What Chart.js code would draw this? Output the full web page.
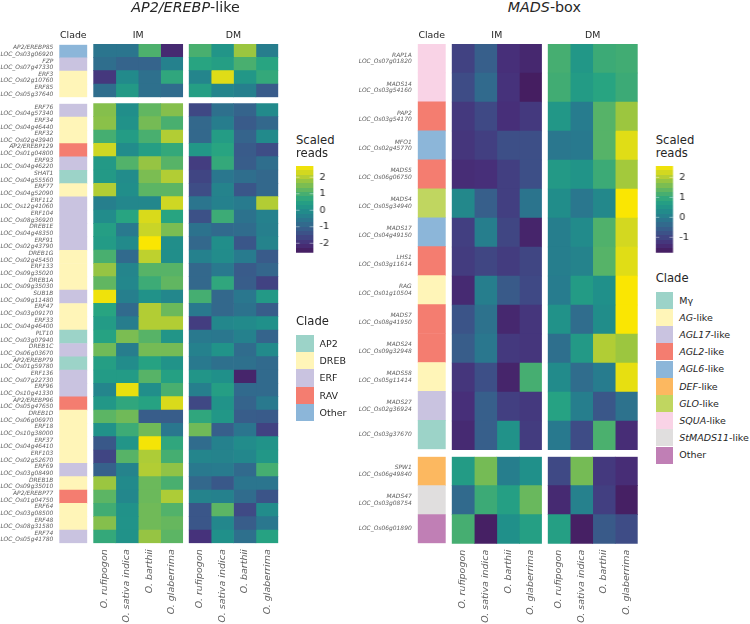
<!DOCTYPE html>
<html>
<head>
<meta charset="utf-8">
<title>AP2/EREBP-like and MADS-box heatmaps</title>
<script src="https://cdn.jsdelivr.net/npm/chart.js@4"></script>
<style>
  html, body { margin: 0; padding: 0; background: #fff; }
  body { position: relative; width: 750px; height: 624px; overflow: hidden; font-family: "DejaVu Sans", sans-serif; }
  canvas { position: absolute; display: block; }
  .txt { position: absolute; white-space: nowrap; color: #262626; line-height: 1; }
  .mid { transform: translateX(-50%); }
  .swatch { position: absolute; }
  i { font-style: italic; }
</style>
</head>
<body>
<script>
const species = ['O. rufipogon', 'O. sativa indica', 'O. barthii', 'O. glaberrima'];

// AP2/EREBP-like, upper cluster
const apTopGenes = ['AP2/EREBP85', 'FZP', 'ERF3', 'ERF85'];
const apTopLoci = ['LOC_Os03g06920', 'LOC_Os07g47330', 'LOC_Os02g10760', 'LOC_Os05g37640'];
const apTopClades = ['Other', 'ERF', 'DREB', 'DREB'];
const apTopIM = [
  [-0.6, -0.6, 1.05, -2.2],
  [-0.75, -1.0, -1.0, -0.3],
  [-1.9, -0.1, -0.7, 0.7],
  [-0.75, 0.3, -0.7, -0.8]
];
const apTopDM = [
  [1.0, 0.2, 1.8, -0.4],
  [0.6, 0.45, 1.0, 0.6],
  [-0.2, 2.4, 0.25, 0.75],
  [0.45, -0.2, -0.35, -1.2]
];

// AP2/EREBP-like, lower cluster
const apLowGenes = ['ERF76', 'ERF34', 'ERF32', 'AP2/EREBP129', 'ERF93', 'SHAT1', 'ERF77', 'ERF112', 'ERF104', 'DREB1E', 'ERF91',
  'DREB1G', 'ERF133', 'DREB1A', 'SUB1B', 'ERF47', 'ERF33', 'PLT10', 'DREB1C', 'AP2/EREBP79', 'ERF136', 'ERF96',
  'AP2/EREBP96', 'DREB1D', 'ERF18', 'ERF37', 'ERF103', 'ERF69', 'DREB1B', 'AP2/EREBP77', 'ERF64', 'ERF48', 'ERF74'];
const apLowLoci = ['LOC_Os04g57340', 'LOC_Os04g46440', 'LOC_Os02g43940', 'LOC_Os01g04800', 'LOC_Os04g46220', 'LOC_Os04g55560',
  'LOC_Os04g52090', 'LOC_Os12g41060', 'LOC_Os08g36920', 'LOC_Os04g48350', 'LOC_Os02g43790', 'LOC_Os02g45450',
  'LOC_Os09g35020', 'LOC_Os09g35030', 'LOC_Os09g11480', 'LOC_Os03g09170', 'LOC_Os04g46400', 'LOC_Os03g07940',
  'LOC_Os06g03670', 'LOC_Os01g59780', 'LOC_Os07g22730', 'LOC_Os10g41330', 'LOC_Os05g47650', 'LOC_Os06g06970',
  'LOC_Os10g38000', 'LOC_Os04g46410', 'LOC_Os02g52670', 'LOC_Os03g08490', 'LOC_Os09g35010', 'LOC_Os01g04750',
  'LOC_Os03g08500', 'LOC_Os08g31580', 'LOC_Os05g41780'];
const apLowClades = ['ERF', 'DREB', 'DREB', 'RAV', 'ERF', 'AP2', 'DREB', 'ERF', 'ERF', 'ERF', 'ERF', 'DREB', 'DREB', 'DREB', 'ERF',
  'DREB', 'DREB', 'AP2', 'ERF', 'AP2', 'ERF', 'ERF', 'RAV', 'DREB', 'DREB', 'DREB', 'DREB', 'ERF', 'DREB', 'RAV', 'DREB', 'DREB', 'ERF'];
const apLowIM = [
  [1.6, 0.0, 1.25, 1.6], [1.65, 0.1, 1.45, 1.0], [0.95, 0.4, 1.0, 2.0], [2.25, -0.05, 0.45, 0.75],
  [0.3, 1.1, 1.75, 1.15], [0.3, -0.05, 1.5, 2.0], [2.0, 0.0, 1.2, 1.2], [-0.35, -0.15, -0.15, 2.25],
  [-0.05, 0.6, 2.35, 0.6], [0.45, -0.5, 2.2, 1.5], [0.35, -0.1, 2.65, 0.0], [1.0, -0.85, 2.1, 0.0],
  [1.75, -0.2, 1.15, 1.15], [1.25, -0.15, 0.85, 1.25], [2.55, -0.35, 0.1, -0.15], [0.6, -0.85, 2.0, 1.35],
  [0.35, -0.4, 2.0, 2.0], [0.55, 1.5, 1.15, 0.2], [1.4, -0.4, 1.45, 1.45], [0.45, -0.05, 0.55, 0.15],
  [0.35, 0.35, 1.15, 0.5], [-0.2, 2.5, 0.0, 1.0], [0.25, 0.7, 0.55, 2.35], [1.2, 1.4, -1.15, -1.15],
  [0.1, 0.85, 1.4, -0.55], [-1.25, 0.2, 2.6, 0.7], [-1.65, 1.15, 1.95, 0.95], [-1.05, -0.25, 2.0, 1.7],
  [1.8, -0.1, 1.35, 1.0], [1.2, -0.15, 1.35, 1.95], [0.9, 0.1, 1.4, 1.1], [1.6, 0.15, 1.4, 1.3], [0.75, 0.1, 1.75, 1.2]
];
const apLowDM = [
  [-1.6, -0.7, -1.0, -0.1], [-0.9, -0.4, -1.2, -0.9], [-0.9, 0.4, -1.0, -0.1], [0.25, 0.6, -1.2, -1.5],
  [-1.8, 0.75, -1.15, -0.75], [-1.65, -0.55, -0.75, -0.9], [-1.5, -0.25, -1.3, -0.9], [-0.6, -0.3, -0.45, 2.0],
  [-1.4, 0.85, -0.65, -0.3], [-0.65, -0.85, -0.8, -0.35], [-0.9, 0.0, -1.3, -0.25], [-0.3, -0.05, -0.45, -1.2],
  [-0.9, -0.5, -1.2, -0.95], [-0.9, 0.7, -1.15, -1.7], [0.95, -0.9, -0.55, 0.3], [-0.5, -0.9, -0.65, -1.15],
  [-1.8, -0.15, -0.1, 0.05], [-0.5, -0.55, -0.3, -1.0], [-0.3, 0.15, -0.8, -0.1], [-0.5, -0.7, -0.7, -0.85],
  [0.2, 0.05, -2.3, -0.85], [-0.35, 0.45, -0.85, -0.85], [-1.6, 0.15, -1.0, -0.5], [0.7, 0.25, -1.15, -1.2],
  [1.4, -1.1, -0.6, -1.7], [-0.8, -0.3, -0.05, 0.15], [-0.2, -0.25, -0.15, 0.25], [-0.5, -0.45, -0.85, 0.95],
  [-0.9, -1.25, -0.6, -0.6], [-0.25, -0.3, -0.8, -1.35], [-1.3, 1.2, -1.55, -0.05], [-1.3, -0.15, -1.15, -0.55], [-2.0, 0.05, -0.7, 0.55]
];

// MADS-box, upper cluster
const madsTopGenes = ['RAP1A', 'MADS14', 'PAP2', 'MFO1', 'MADS5', 'MADS4', 'MADS17', 'LHS1', 'RAG', 'MADS7', 'MADS24', 'MADS58', 'MADS27', ''];
const madsTopLoci = ['LOC_Os07g01820', 'LOC_Os03g54160', 'LOC_Os03g54170', 'LOC_Os02g45770', 'LOC_Os06g06750', 'LOC_Os05g34940',
  'LOC_Os04g49150', 'LOC_Os03g11614', 'LOC_Os01g10504', 'LOC_Os08g41950', 'LOC_Os09g32948', 'LOC_Os05g11414', 'LOC_Os02g36924', 'LOC_Os03g37670'];
const madsTopClades = ['SQUA', 'SQUA', 'AGL2', 'AGL6', 'AGL2', 'GLO', 'AGL6', 'AGL2', 'AG', 'AGL2', 'AGL2', 'AG', 'AGL17', 'Mg'];
const madsTopIM = [
  [-1.05, -0.55, -1.35, -1.5], [-0.9, -0.35, -1.3, -1.7], [-1.2, -0.95, -1.35, -1.2], [-1.25, -1.1, -0.85, -0.85],
  [-1.4, -1.35, -1.1, -0.85], [0.25, -0.55, -1.1, -0.15], [-1.1, 0.05, -1.0, -1.55], [-1.15, -1.0, -1.15, -1.0],
  [-1.45, 0.05, -0.65, -0.95], [-0.75, -0.2, -1.5, -1.25], [-0.6, -0.1, -1.2, -1.25], [-1.25, -0.85, -1.55, 1.15],
  [-1.35, -0.55, -1.1, -1.2], [-1.45, -0.55, 0.45, -1.15]
];
const madsTopDM = [
  [1.15, 0.55, 1.05, 1.1], [1.1, 0.65, 0.85, 1.05], [0.55, 0.0, 1.3, 1.85], [-0.1, -0.05, 1.3, 2.35],
  [0.6, 0.5, 1.05, 1.9], [0.35, -0.1, 0.25, 2.55], [0.05, 0.3, 1.25, 2.25], [0.05, 0.15, 1.3, 2.35],
  [0.0, 0.65, 0.4, 2.55], [0.45, -0.3, 0.35, 2.55], [-0.25, 0.6, 2.0, 1.85], [0.3, -0.3, 0.0, 2.4],
  [0.8, 0.05, -0.7, -0.2], [-0.05, -0.9, 1.2, -1.4]
];

// MADS-box, lower cluster
const madsLowGenes = ['SPW1', 'MADS47', ''];
const madsLowLoci = ['LOC_Os06g49840', 'LOC_Os03g08754', 'LOC_Os06g01890'];
const madsLowClades = ['DEF', 'StMADS11', 'MadsOther'];
const madsLowIM = [[0.65, 1.55, 0.05, 0.4], [-0.35, 1.05, 0.75, 1.45], [1.15, -1.65, 0.4, 0.75]];
const madsLowDM = [[-0.95, 1.55, -1.2, -1.4], [-1.45, 0.1, -1.1, -1.65], [0.75, -1.65, -0.65, -0.9]];

const apRange = [-2.57, 2.68];
const madsRange = [-1.77, 2.57];
const apBarTicks = [-2, -1, 0, 1, 2];
const madsBarTicks = [-1, 0, 1, 2];

const cladeColors = {
  AP2: '#9cd3c8', DREB: '#fff5b8', ERF: '#c9c3e0', RAV: '#f47d70', Other: '#8cb6d9',
  Mg: '#9cd3c8', AG: '#fff5b8', AGL17: '#c9c3e0', AGL2: '#f47d70', AGL6: '#8cb6d9',
  DEF: '#fcb860', GLO: '#c0d660', SQUA: '#f9d3e6', StMADS11: '#e0dede', MadsOther: '#c07fb5'
};

// viridis as it looks in the reference, a bit duller than the plain map
const viridis = [[69,26,92],[71,48,122],[62,76,134],[53,100,140],[40,122,142],[32,144,138],[38,163,130],[82,178,106],[136,192,74],[196,211,43],[253,231,0]];

function viridisColor(t) {
  t = Math.min(1, Math.max(0, t)) * (viridis.length - 1);
  const i = Math.min(Math.floor(t), viridis.length - 2);
  const f = t - i;
  const c = viridis[i].map((v, k) => Math.round(v + (viridis[i + 1][k] - v) * f));
  return `rgb(${c[0]},${c[1]},${c[2]})`;
}

function valueFills(matrix, range) {
  return matrix.map(row => row.map(v => viridisColor((v - range[0]) / (range[1] - range[0]))));
}

function rowLabels(genes, loci) {
  return loci.map((l, i) => genes[i] ? [genes[i], l] : [l]);
}

function makeCanvas(x, y, w, h) {
  const c = document.createElement('canvas');
  c.width = w;
  c.height = h;
  c.style.left = x + 'px';
  c.style.top = y + 'px';
  c.style.width = w + 'px';
  c.style.height = h + 'px';
  document.body.appendChild(c);
  return c;
}

// box is the wanted plot area, the canvas is a bit bigger to hold the axis text.
// the margin has to stay above half a tick label or Chart.js shrinks the plot
function heatmap(box, rows, fills, withRowAxis, withColAxis) {
  const axisW = withRowAxis ? 60 : 0;
  const axisH = withColAxis ? 80 : 0;
  const cx = Math.floor(box.x) - axisW - 12;
  const cy = Math.floor(box.y) - 12;
  const cw = Math.ceil(box.x + box.w) + 12 - cx;
  const ch = Math.ceil(box.y + box.h) + axisH + 12 - cy;
  const nCols = fills[0].length;
  const datasets = [];
  for (let j = 0; j < nCols; j++) {
    datasets.push({
      data: rows.map(() => 1),
      backgroundColor: fills.map(r => r[j]),
      barPercentage: 1,
      categoryPercentage: 1,
      borderWidth: 0
    });
  }
  const scales = {
    x: { type: 'linear', stacked: true, min: 0, max: nCols, display: false },
    y: {
      type: 'category',
      stacked: true,
      display: withRowAxis,
      grid: { display: false, drawTicks: false },
      border: { display: false },
      afterFit: s => { s.width = axisW; },
      ticks: {
        autoSkip: false,
        padding: 6,
        color: '#606060',
        font: { size: 5.95, style: 'italic', lineHeight: 1.12 }
      }
    }
  };
  if (withColAxis) {
    scales.cols = {
      type: 'category',
      axis: 'x',
      position: 'bottom',
      labels: species,
      offset: true,
      grid: { display: false, drawTicks: false },
      border: { display: false },
      afterFit: s => { s.height = axisH; },
      ticks: {
        autoSkip: false,
        minRotation: 90,
        maxRotation: 90,
        padding: 6,
        color: '#606060',
        font: { size: 9.5, style: 'italic' }
      }
    };
  }
  return new Chart(makeCanvas(cx, cy, cw, ch), {
    type: 'bar',
    data: { labels: rows, datasets: datasets },
    options: {
      indexAxis: 'y',
      responsive: false,
      animation: false,
      events: [],
      layout: {
        padding: {
          left: box.x - cx - axisW,
          top: box.y - cy,
          right: cx + cw - box.x - box.w,
          bottom: cy + ch - box.y - box.h - axisH
        }
      },
      plugins: { legend: { display: false }, tooltip: { enabled: false } },
      scales: scales
    }
  });
}

function colorbar(x, y, w, h, range, tickValues) {
  const whiteTicks = {
    id: 'whiteTicks',
    afterDatasetsDraw(chart) {
      const a = chart.chartArea, g = chart.ctx, sc = chart.scales.y;
      g.save();
      g.strokeStyle = 'rgba(255,255,255,0.7)';
      g.lineWidth = 0.6;
      tickValues.forEach(v => {
        const py = sc.getPixelForValue(v);
        g.beginPath();
        g.moveTo(a.left, py); g.lineTo(a.left + w / 5, py);
        g.moveTo(a.right - w / 5, py); g.lineTo(a.right, py);
        g.stroke();
      });
      g.restore();
    }
  };
  const fill = ctx => {
    const a = ctx.chart.chartArea;
    if (!a) return '#21918c';
    const grad = ctx.chart.ctx.createLinearGradient(0, a.bottom, 0, a.top);
    const bins = 20;
    for (let i = 0; i < bins; i++) {
      const col = viridisColor((i + 0.5) / bins);
      grad.addColorStop(i / bins, col);
      grad.addColorStop((i + 1) / bins, col);
    }
    return grad;
  };
  const axisW = 34;
  const cy = Math.floor(y) - 14;
  const cx = Math.floor(x);
  new Chart(makeCanvas(cx, cy, w + axisW + 2, Math.ceil(h) + 28), {
    type: 'bar',
    data: {
      labels: [''],
      datasets: [{ data: [[range[0], range[1]]], backgroundColor: fill, barPercentage: 1, categoryPercentage: 1, borderWidth: 0 }]
    },
    options: {
      responsive: false,
      animation: false,
      events: [],
      layout: { padding: { left: x - cx, right: 2 - (x - cx), top: y - cy, bottom: Math.ceil(h) + 28 - h - (y - cy) } },
      plugins: { legend: { display: false }, tooltip: { enabled: false } },
      scales: {
        x: { display: false },
        y: {
          position: 'right',
          min: range[0],
          max: range[1],
          grid: { display: false, drawTicks: false },
          border: { display: false },
          afterFit: s => { s.width = axisW; },
          afterBuildTicks: s => { s.ticks = tickValues.map(v => ({ value: v })); },
          ticks: { padding: 6, color: '#262626', font: { size: 9.5 }, callback: v => String(v) }
        }
      }
    },
    plugins: [whiteTicks]
  });
}

function text(html, x, baseline, size, centered) {
  const d = document.createElement('div');
  d.className = 'txt' + (centered ? ' mid' : '');
  d.style.left = x + 'px';
  d.style.top = (baseline - size * 0.85) + 'px';
  d.style.fontSize = size + 'px';
  d.innerHTML = html;
  document.body.appendChild(d);
}

function legend(x, top, pitch, titleBase, items) {
  text('Clade', x, titleBase, 11.6);
  items.forEach((it, i) => {
    const s = document.createElement('div');
    s.className = 'swatch';
    s.style.cssText = `left:${x}px;top:${top + i * pitch}px;width:17.6px;height:${pitch}px;background:${cladeColors[it[0]]}`;
    document.body.appendChild(s);
    text(it[1], x + 23.5, top + i * pitch + pitch / 2 + 3.4, 9.5);
  });
}

function cladeFills(clades) {
  return clades.map(c => [cladeColors[c]]);
}

const rowH = 13.333;
const madsRowH = 29;
const apCols = { clade: [59.3, 28], im: [93.3, 89.8], dm: [188.7, 89.6] };
const madsCols = { clade: [417.7, 28], im: [451.7, 90.2], dm: [547.7, 90] };

function group(cols, top, rh, genes, loci, clades, im, dm, range, withColAxis) {
  const rows = rowLabels(genes, loci);
  const h = rows.length * rh;
  heatmap({ x: cols.clade[0], y: top, w: cols.clade[1], h: h }, rows, cladeFills(clades), true, false);
  heatmap({ x: cols.im[0], y: top, w: cols.im[1], h: h }, rows, valueFills(im, range), false, withColAxis);
  heatmap({ x: cols.dm[0], y: top, w: cols.dm[1], h: h }, rows, valueFills(dm, range), false, withColAxis);
}

Chart.defaults.font.family = '"DejaVu Sans", sans-serif';

group(apCols, 44, rowH, apTopGenes, apTopLoci, apTopClades, apTopIM, apTopDM, apRange, false);
group(apCols, 103.3, rowH, apLowGenes, apLowLoci, apLowClades, apLowIM, apLowDM, apRange, true);
group(madsCols, 44, madsRowH, madsTopGenes, madsTopLoci, madsTopClades, madsTopIM, madsTopDM, madsRange, false);
group(madsCols, 456.7, madsRowH, madsLowGenes, madsLowLoci, madsLowClades, madsLowIM, madsLowDM, madsRange, true);

text('<i>AP2/EREBP</i>-like', 185.5, 12.5, 14.3, true);
text('<i>MADS</i>-box', 544.3, 12.5, 14.3, true);
[[73.3, 'Clade'], [138.2, 'IM'], [233.5, 'DM'], [431.7, 'Clade'], [496.8, 'IM'], [592.7, 'DM']].forEach(h => {
  text(h[1], h[0], 37.7, 9.4, true);
});

text('Scaled', 296, 145, 11.6);
text('reads', 296, 157.5, 11.6);
colorbar(296, 166, 17.6, 86.7, apRange, apBarTicks);
legend(296, 335, 17.2, 325.7, [['AP2', 'AP2'], ['DREB', 'DREB'], ['ERF', 'ERF'], ['RAV', 'RAV'], ['Other', 'Other']]);

text('Scaled', 655.7, 145, 11.6);
text('reads', 655.7, 157.5, 11.6);
colorbar(655.7, 166, 17.6, 86.7, madsRange, madsBarTicks);
legend(655.7, 291.7, 17.2, 283, [['Mg', 'M\u03b3'], ['AG', '<i>AG</i>-like'], ['AGL17', '<i>AGL17</i>-like'], ['AGL2', '<i>AGL2</i>-like'],
  ['AGL6', '<i>AGL6</i>-like'], ['DEF', '<i>DEF</i>-like'], ['GLO', '<i>GLO</i>-like'], ['SQUA', '<i>SQUA</i>-like'],
  ['StMADS11', '<i>StMADS11</i>-like'], ['MadsOther', 'Other']]);
</script>
</body>
</html>
